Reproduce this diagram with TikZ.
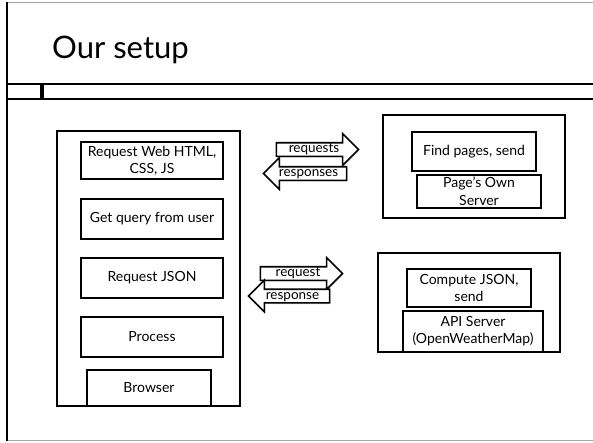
\documentclass[tikz,border=0pt]{standalone}
\usepackage{fontspec}
\setmainfont{Lato}
\usetikzlibrary{shapes.arrows,shadows}

\begin{document}
\begin{tikzpicture}[x=1pt,y=-1pt,
    box/.style={draw, line width=1.7pt, fill=white, align=center, inner sep=1pt,
      drop shadow={shadow xshift=1pt, shadow yshift=-1.2pt, opacity=0.3},
      font=\fontsize{14}{17}\selectfont},
    frame/.style={draw, line width=1.7pt, fill=white,
      drop shadow={shadow xshift=1pt, shadow yshift=-1.2pt, opacity=0.3}},
    msg/.style={single arrow, draw, line width=1.6pt, fill=white,
      single arrow head extend=9pt, inner xsep=2pt, inner ysep=0.5pt,
      text height=8.5pt, text depth=2.5pt,
      drop shadow={shadow xshift=1pt, shadow yshift=-1.2pt, opacity=0.3},
      font=\fontsize{13.5}{14}\selectfont}]
  \useasboundingbox (0,0) rectangle (593,442);

  % slide frame and title bar
  \draw[gray!70, line width=0.8pt] (7,2) -- (593,2);
  \draw[gray!70, line width=0.8pt] (7,440) -- (593,440);
  \draw[line width=1.4pt] (7,2) -- (7,441);
  \node[anchor=base west, inner sep=0pt, font=\fontsize{31}{32}\selectfont] (title) at (52,58) {Our setup};
  \draw[line width=1.4pt] (7,84) -- (593,84);
  \draw[line width=1.4pt] (7,99) -- (593,99);
  \fill (40,84) rectangle (43.5,99);

  % client side
  \node[frame, minimum width=183pt, minimum height=275pt] (browserframe) at (148.5,268.5) {};
  \node[box, minimum width=142pt, minimum height=37pt] (reqweb) at (152,160.5) {Request Web HTML,\\CSS, JS};
  \node[box, minimum width=142pt, minimum height=40pt] (getquery) at (152,219) {Get query from user};
  \node[box, minimum width=142pt, minimum height=40pt] (reqjson) at (152,278) {Request JSON};
  \node[box, minimum width=142pt, minimum height=40pt] (process) at (152,337) {Process};
  \node[box, minimum width=124pt, minimum height=36pt] (browser) at (149,388) {Browser};

  % web page server
  \node[frame, minimum width=182pt, minimum height=103pt] (pageframe) at (474,166.5) {};
  \node[box, minimum width=124pt, minimum height=39pt] (findpages) at (474,151.5) {Find pages, send};
  \node[box, minimum width=124pt, minimum height=33pt, font=\fontsize{14}{18}\selectfont] (pageserver) at (479,191.5) {Page's Own\\Server};

  % api server
  \node[frame, minimum width=182pt, minimum height=99pt] (apiframe) at (469,302.5) {};
  \node[box, minimum width=124pt, minimum height=38pt] (computejson) at (469,288) {Compute JSON,\\send};
  \node[box, minimum width=140pt, minimum height=41pt] (apiserver) at (473,331.5) {API Server\\(OpenWeatherMap)};

  % messages
  \node[msg, minimum height=82pt] (requests) at (314,149.5) {requests};
  \node[msg, minimum height=83pt, shape border rotate=180] (responses) at (308.5,173.5) {responses};
  \node[msg, minimum height=82pt] (request) at (298,273.5) {request};
  \node[msg, minimum height=81pt, shape border rotate=180] (response) at (292.5,296) {response};
\end{tikzpicture}
\end{document}
